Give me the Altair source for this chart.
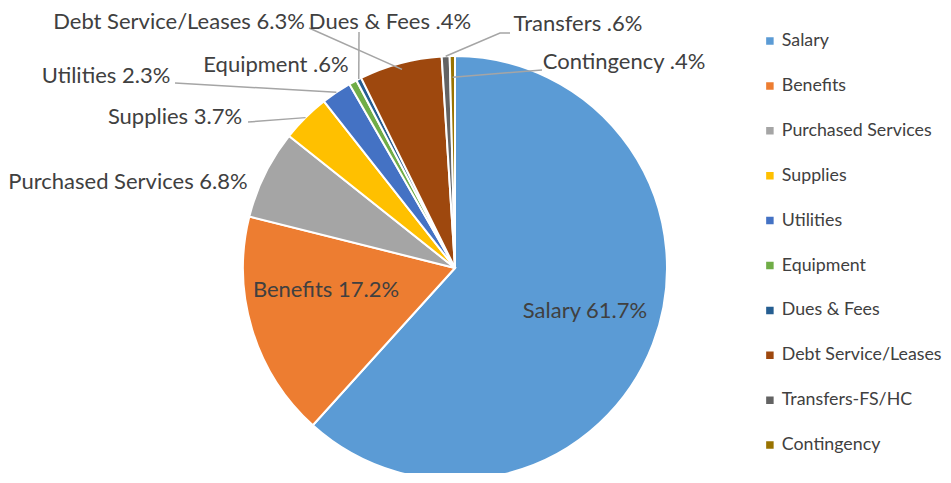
import math
import altair as alt
import pandas as pd

# ---- data ----
categories = ["Salary", "Benefits", "Purchased Services", "Supplies", "Utilities",
              "Equipment", "Dues & Fees", "Debt Service/Leases", "Transfers-FS/HC", "Contingency"]
values = [61.7, 17.2, 6.8, 3.7, 2.3, 0.6, 0.4, 6.3, 0.6, 0.4]
label_texts = ["Salary 61.7%", "Benefits 17.2%", "Purchased Services 6.8%", "Supplies 3.7%",
               "Utilities 2.3%", "Equipment .6%", "Dues & Fees .4%", "Debt Service/Leases 6.3%",
               "Transfers .6%", "Contingency .4%"]
colors = ["#5B9BD5", "#ED7D31", "#A5A5A5", "#FFC000", "#4472C4",
          "#70AD47", "#255E91", "#9E480E", "#636363", "#997300"]

# ---- layout (plot-area pixels) ----
CX, CY, R = 447, 260, 212
label_pos = [(577, 303), (318, 282), (120, 174), (167, 109), (98, 68),
             (268, 57), (382, 14), (171, 14), (570, 16), (616, 54)]
# leader polyline points from label side (None = no leader); last point is on the slice
leader_pts = [None, None, None, [(240, 114)], [(167, 75)], None,
              [(351, 24)], [(301, 20)], [(502, 25), (492, 25)], [(534, 62)]]
leader_r = [None, None, None, 1.0, 1.0, None, 1.0, 0.97, 1.0, 0.9]

df = pd.DataFrame({"category": categories, "value": values, "idx": range(len(values))})

total = sum(values)
cum = 0
lx, ly, rows = [], [], []
for i, v in enumerate(values):
    mid = (cum + v / 2) / total * 2 * math.pi
    cum += v
    lx.append(label_pos[i][0])
    ly.append(label_pos[i][1])
    if leader_pts[i] is not None:
        pts = list(leader_pts[i])
        r = R * leader_r[i]
        pts.append((CX + r * math.sin(mid), CY - r * math.cos(mid)))
        for k, (px, py) in enumerate(pts):
            rows.append({"label": label_texts[i], "k": k, "px": px, "py": py})

lab_df = pd.DataFrame({"label": label_texts, "px": lx, "py": ly})
lead_df = pd.DataFrame(rows)

pie = alt.Chart(df).mark_arc(outerRadius=R, stroke="white", strokeWidth=2).encode(
    theta=alt.Theta("value:Q", stack=True),
    color=alt.Color("category:N", sort=categories,
                    scale=alt.Scale(domain=categories, range=colors),
                    legend=alt.Legend(orient="none", legendX=753, legendY=23, title=None,
                                      symbolType="square", symbolSize=56, symbolStrokeWidth=0,
                                      labelFont="Lato", labelFontSize=17.8, labelColor="#404040",
                                      clipHeight=20, rowPadding=24.9, labelOffset=3,
                                      padding=0, direction="vertical", labelLimit=300)),
    order=alt.Order("idx:Q"),
    x=alt.value(CX), y=alt.value(CY),
)

leaders = alt.Chart(lead_df).mark_line(color="#A5A5A5", strokeWidth=1.5).encode(
    x=alt.X("px:Q", scale=None), y=alt.Y("py:Q", scale=None),
    detail="label:N", order="k:Q")

labels = alt.Chart(lab_df).mark_text(font="Lato", fontSize=22, color="#404040",
                                     align="center", baseline="middle").encode(
    x=alt.X("px:Q", scale=None), y=alt.Y("py:Q", scale=None), text="label:N")

chart = alt.layer(pie, leaders, labels).properties(
    width=935, height=465, padding=0,
    autosize=alt.AutoSizeParams(type="none")
).configure_view(stroke=None)

chart.save("out.html", embed_options={"renderer": "svg", "actions": False})
